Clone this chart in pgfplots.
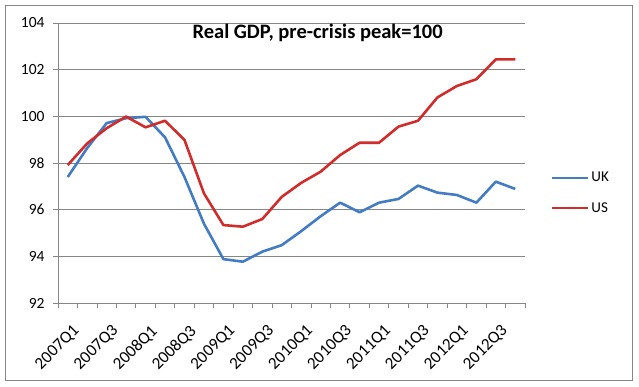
\documentclass[border=0pt]{standalone}
\usepackage{pgfplots}
\pgfplotsset{compat=1.18}
\usepackage{fontspec}
\setmainfont{Carlito}
\definecolor{ukblue}{RGB}{68,124,196}
\definecolor{usred}{RGB}{208,44,44}
\definecolor{gridgray}{RGB}{134,134,134}
\begin{document}
\begin{tikzpicture}
\useasboundingbox (-58pt,-83pt) rectangle (581pt,303pt);
\fill[white] (-58pt,-83pt) rectangle (581pt,303pt);
\draw[gridgray, line width=0.8pt] (-53pt,-77pt) rectangle (574pt,298pt);
\begin{axis}[
  at={(0,0)}, anchor=south west,
  scale only axis, width=467pt, height=280pt,
  xmin=-0.5, xmax=23.5, ymin=92, ymax=104,
  ytick={92,94,...,104},
  minor ytick={92,94,...,104},
  axis lines*=left,
  axis line style={gridgray, line width=0.8pt},
  ymajorgrids, grid style={gridgray, line width=0.8pt},
  tick align=outside,
  major tick length=0pt,
  minor tick length=5pt,
  tick style={gridgray, line width=0.8pt},
  minor tick style={gridgray, line width=0.8pt},
  xtick={0,2,...,22},
  xticklabels={2007Q1,2007Q3,2008Q1,2008Q3,2009Q1,2009Q3,2010Q1,2010Q3,2011Q1,2011Q3,2012Q1,2012Q3},
  minor xtick={-0.5,0.5,...,23.5},
  xticklabel style={rotate=45, anchor=north east, font=\fontsize{17}{19}\selectfont, inner sep=0.5pt, yshift=-17pt, xshift=-11pt},
  yticklabel style={font=\fontsize{15.5}{18}\selectfont, xshift=-10pt},
  /pgf/number format/assume math mode=true,
  legend cell align=left,
  legend style={draw=none, fill=none, at={(1.055,0.393)}, anchor=west,
    row sep=15pt, font=\fontsize{15}{17}\selectfont, inner sep=0pt},
  legend image code/.code={\draw[#1] (0pt,0pt) -- (36pt,0pt);},
]
\addplot[ukblue, line width=2.6pt, line join=round] coordinates {
(0,97.40) (1,98.64) (2,99.71) (3,99.92) (4,99.98) (5,99.10) (6,97.40) (7,95.40)
(8,93.88) (9,93.77) (10,94.20) (11,94.48) (12,95.08) (13,95.72) (14,96.30) (15,95.89)
(16,96.30) (17,96.46) (18,97.03) (19,96.73) (20,96.63) (21,96.30) (22,97.20) (23,96.89)
};
\addlegendentry{UK}
\addplot[usred, line width=2.6pt, line join=round] coordinates {
(0,97.91) (1,98.84) (2,99.49) (3,99.99) (4,99.53) (5,99.81) (6,98.99) (7,96.70)
(8,95.34) (9,95.27) (10,95.60) (11,96.55) (12,97.15) (13,97.63) (14,98.34) (15,98.87)
(16,98.87) (17,99.56) (18,99.81) (19,100.81) (20,101.30) (21,101.59) (22,102.44) (23,102.44)
};
\addlegendentry{US}
\node[font=\bfseries\fontsize{20.5}{23}\selectfont] at (rel axis cs:0.556,0.965) {Real GDP, pre-crisis peak=100};
\end{axis}
\end{tikzpicture}
\end{document}
